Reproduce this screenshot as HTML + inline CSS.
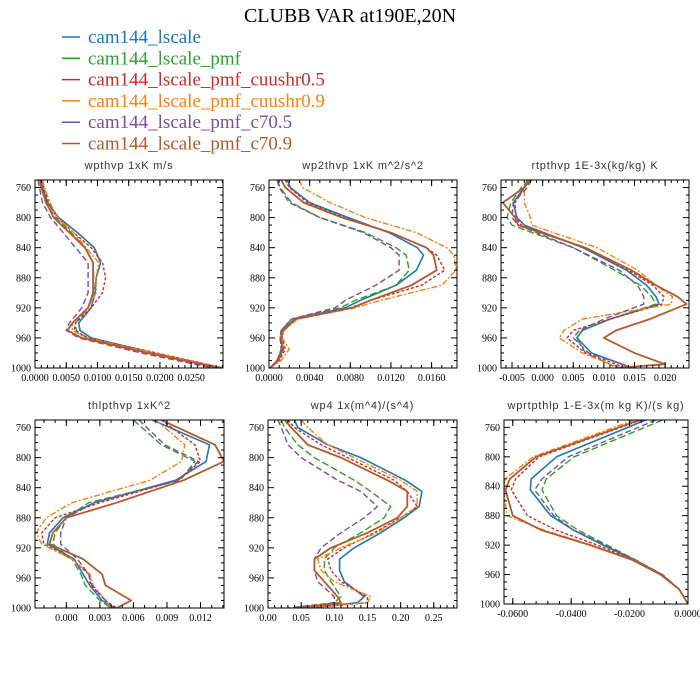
<!DOCTYPE html>
<html><head><meta charset="utf-8"><style>
body{margin:0;background:#fff;}
svg{display:block;}
.pt{font-family:"Liberation Sans",sans-serif;font-size:11px;fill:#333;letter-spacing:0.8px;}
.tl{font-family:"Liberation Serif",serif;font-size:10px;fill:#000;}
.lg{font-family:"Liberation Serif",serif;font-size:19px;}
</style></head><body>
<svg id="chart" width="700" height="700" viewBox="0 0 700 700" xmlns="http://www.w3.org/2000/svg">
<text x="350" y="22" text-anchor="middle" font-family="Liberation Serif,serif" font-size="20">CLUBB VAR at190E,20N</text>
<g id="legend"></g>
<g id="panels"></g>
</svg>
<script>
const seriesNames = ["cam144_lscale","cam144_lscale_pmf","cam144_lscale_pmf_cuushr0.5","cam144_lscale_pmf_cuushr0.9","cam144_lscale_pmf_c70.5","cam144_lscale_pmf_c70.9"];
const yTicks = [760,800,840,880,920,960,1000];

// panel 1: wpthvp
const p1Levels = [750,760,780,800,820,840,860,880,900,920,940,950,960,980,1000];
const p1Blue   = [0.0010,0.0012,0.0020,0.0038,0.0068,0.0095,0.0105,0.0098,0.0096,0.0090,0.0070,0.0072,0.0090,0.0190,0.0300];
const p1Green  = [0.0008,0.0010,0.0017,0.0033,0.0058,0.0080,0.0093,0.0094,0.0094,0.0085,0.0065,0.0066,0.0083,0.0180,0.0295];
const p1Red    = [0.0012,0.0014,0.0022,0.0035,0.0062,0.0090,0.0108,0.0113,0.0108,0.0090,0.0065,0.0063,0.0085,0.0195,0.0302];
const p1Orange = [0.0012,0.0015,0.0024,0.0036,0.0062,0.0082,0.0102,0.0098,0.0098,0.0085,0.0060,0.0060,0.0082,0.0190,0.0302];
const p1Purple = [0.0005,0.0007,0.0012,0.0025,0.0045,0.0065,0.0085,0.0085,0.0085,0.0075,0.0055,0.0050,0.0070,0.0170,0.0285];
const p1Brown  = [0.0008,0.0010,0.0018,0.0030,0.0055,0.0080,0.0093,0.0093,0.0093,0.0085,0.0060,0.0052,0.0075,0.0180,0.0295];
const p1Ticks = [0,0.005,0.010,0.015,0.020,0.025];
const p1TickLabels = ["0.0000","0.0050","0.0100","0.0150","0.0200","0.0250"];

// panel 2: wp2thvp
const p2Levels = [750,760,780,800,820,840,850,870,890,910,920,935,950,960,975,990,1000];
const p2Blue   = [0.0018,0.0021,0.0040,0.0078,0.0118,0.0146,0.0152,0.0145,0.0125,0.0090,0.0075,0.0025,0.0013,0.0012,0.0013,0.0008,0.0001];
const p2Green  = [0.0008,0.0011,0.0022,0.0050,0.0095,0.0125,0.0135,0.0138,0.0125,0.0085,0.0070,0.0022,0.0012,0.0011,0.0012,0.0008,0.0001];
const p2Red    = [0.0016,0.0020,0.0038,0.0074,0.0120,0.0155,0.0165,0.0173,0.0150,0.0100,0.0080,0.0027,0.0014,0.0013,0.0016,0.0010,0.0001];
const p2Orange = [0.0030,0.0033,0.0060,0.0095,0.0145,0.0175,0.0182,0.0184,0.0170,0.0110,0.0085,0.0028,0.0015,0.0013,0.0020,0.0012,0.0001];
const p2Purple = [0.0008,0.0010,0.0020,0.0050,0.0093,0.0120,0.0128,0.0128,0.0105,0.0075,0.0065,0.0022,0.0012,0.0011,0.0012,0.0008,0.0001];
const p2Brown  = [0.0012,0.0016,0.0034,0.0072,0.0120,0.0155,0.0162,0.0165,0.0140,0.0100,0.0082,0.0026,0.0014,0.0012,0.0014,0.0009,0.0001];
const p2Ticks = [0,0.004,0.008,0.012,0.016];
const p2TickLabels = ["0.0000","0.0040","0.0080","0.0120","0.0160"];

// panel 3: rtpthvp
const p3Levels = [750,760,780,800,810,840,870,890,905,915,935,950,960,980,995,1000];
const p3Blue   = [-0.0025,-0.0030,-0.0048,-0.0042,-0.0030,0.0066,0.0137,0.0170,0.0185,0.0190,0.0110,0.0065,0.0056,0.0080,0.0130,0.0145];
const p3Green  = [-0.0022,-0.0035,-0.0052,-0.0058,-0.0050,0.0050,0.0118,0.0160,0.0178,0.0185,0.0110,0.0065,0.0055,0.0070,0.0110,0.0120];
const p3Red    = [-0.0020,-0.0030,-0.0045,-0.0044,-0.0035,0.0070,0.0140,0.0180,0.0198,0.0195,0.0110,0.0050,0.0040,0.0070,0.0120,0.0135];
const p3Orange = [-0.0022,-0.0030,-0.0030,-0.0020,-0.0018,0.0089,0.0155,0.0185,0.0212,0.0210,0.0065,0.0035,0.0027,0.0065,0.0110,0.0130];
const p3Purple = [-0.0018,-0.0025,-0.0048,-0.0050,-0.0040,0.0050,0.0125,0.0155,0.0165,0.0165,0.0100,0.0060,0.0050,0.0075,0.0130,0.0148];
const p3Brown  = [-0.0020,-0.0030,-0.0065,-0.0045,-0.0040,0.0070,0.0145,0.0185,0.0220,0.0235,0.0175,0.0120,0.0100,0.0150,0.0200,0.0120];
const p3Ticks = [-0.005,0,0.005,0.010,0.015,0.020];
const p3TickLabels = ["-0.005","0.000","0.005","0.010","0.015","0.020"];

// panel 4: thlpthvp
const p4Levels = [750,783,805,830,860,880,900,915,935,955,970,990,1000];
const p4Blue   = [0.0077,0.0128,0.0125,0.0098,0.0025,-0.0003,-0.0015,-0.0017,0.0007,0.0015,0.0021,0.0032,0.0043];
const p4Green  = [0.0060,0.0085,0.0115,0.0102,0.0020,0.0000,-0.0010,-0.0012,0.0005,0.0013,0.0017,0.0030,0.0040];
const p4Red    = [0.0085,0.0115,0.0120,0.0100,0.0030,-0.0010,-0.0022,-0.0020,0.0005,0.0020,0.0022,0.0035,0.0045];
const p4Orange = [0.0080,0.0106,0.0103,0.0075,0.0005,-0.0018,-0.0027,-0.0022,0.0005,0.0021,0.0024,0.0035,0.0040];
const p4Purple = [0.0065,0.0088,0.0118,0.0100,0.0025,0.0000,-0.0005,-0.0005,0.0010,0.0020,0.0023,0.0035,0.0043];
const p4Brown  = [0.0085,0.0133,0.0141,0.0105,0.0045,0.0000,-0.0012,-0.0015,0.0015,0.0032,0.0035,0.0058,0.0045];
const p4Ticks = [0,0.003,0.006,0.009,0.012];
const p4TickLabels = ["0.000","0.003","0.006","0.009","0.012"];

// panel 5: wp4
const p5Levels = [750,760,783,800,830,845,865,880,900,920,935,950,965,985,993,1000];
const p5Blue   = [0.04,0.045,0.09,0.14,0.207,0.232,0.228,0.205,0.17,0.13,0.108,0.108,0.115,0.145,0.135,0.06];
const p5Green  = [0.02,0.025,0.045,0.07,0.13,0.155,0.185,0.175,0.14,0.10,0.085,0.085,0.095,0.11,0.10,0.05];
const p5Red    = [0.03,0.04,0.08,0.12,0.19,0.21,0.225,0.20,0.16,0.115,0.09,0.095,0.11,0.15,0.15,0.06];
const p5Orange = [0.05,0.06,0.09,0.13,0.20,0.225,0.225,0.20,0.165,0.11,0.075,0.08,0.10,0.155,0.15,0.05];
const p5Purple = [0.015,0.02,0.03,0.05,0.105,0.14,0.165,0.145,0.11,0.08,0.07,0.07,0.075,0.10,0.10,0.03];
const p5Brown  = [0.025,0.035,0.06,0.11,0.18,0.21,0.21,0.195,0.15,0.095,0.07,0.07,0.085,0.105,0.11,0.04];
const p5Ticks = [0,0.05,0.10,0.15,0.20,0.25];
const p5TickLabels = ["0.00","0.05","0.10","0.15","0.20","0.25"];

// panel 6: wprtpthlp
const p6Levels = [750,800,830,845,880,900,920,940,960,980,1000];
const p6Blue   = [-0.0145,-0.045,-0.0537,-0.054,-0.047,-0.039,-0.029,-0.0185,-0.0090,-0.0030,0];
const p6Green  = [-0.0087,-0.039,-0.0485,-0.050,-0.045,-0.0375,-0.0277,-0.018,-0.0087,-0.0030,0];
const p6Red    = [-0.016,-0.051,-0.059,-0.0605,-0.055,-0.045,-0.031,-0.0188,-0.0092,-0.0030,0];
const p6Orange = [-0.0184,-0.053,-0.0627,-0.063,-0.062,-0.049,-0.033,-0.019,-0.0094,-0.0030,0];
const p6Purple = [-0.011,-0.041,-0.050,-0.0525,-0.046,-0.039,-0.0285,-0.0183,-0.0089,-0.0030,0];
const p6Brown  = [-0.0165,-0.052,-0.061,-0.0625,-0.060,-0.050,-0.0335,-0.0192,-0.0094,-0.0030,0];
const p6Ticks = [-0.06,-0.04,-0.02,0];
const p6TickLabels = ["-0.0600","-0.0400","-0.0200","0.0000"];

const NS="http://www.w3.org/2000/svg";
const styles=[
 {c:"#1f77b4",d:"",w:1.6},
 {c:"#2ca02c",d:"7,3",w:1.4},
 {c:"#d62728",d:"3,2",w:1.4},
 {c:"#ff7f0e",d:"6,2,2,2",w:1.4},
 {c:"#7b4ea3",d:"6,3",w:1.4},
 {c:"#b5592a",d:"",w:1.8}];
const svg=document.getElementById('chart');
function mk(tag,attrs,parent){const e=document.createElementNS(NS,tag);for(const k in attrs)e.setAttribute(k,attrs[k]);parent.appendChild(e);return e;}

// legend
const lg=document.getElementById('legend');
seriesNames.forEach((n,i)=>{
 const y=37+i*21.3;
 const l=mk('line',{x1:62,x2:80,y1:y,y2:y,stroke:styles[i].c,'stroke-width':1.5},lg);
 
 
 const t=mk('text',{x:88,y:y+6,class:'lg',fill:styles[i].c},lg);
 t.textContent=n;
 
 
});

const panels=[
 {name:'wpthvp',title:'wpthvp  1xK m/s',L:35,R:223,T:180,B:368,xmin:0,xmax:0.0301,lev:p1Levels,s:[p1Blue,p1Green,p1Red,p1Orange,p1Purple,p1Brown],tk:p1Ticks,tl:p1TickLabels,minor:0.001},
 {name:'wp2thvp',title:'wp2thvp  1xK m^2/s^2',L:269,R:457,T:180,B:368,xmin:0,xmax:0.0185,lev:p2Levels,s:[p2Blue,p2Green,p2Red,p2Orange,p2Purple,p2Brown],tk:p2Ticks,tl:p2TickLabels,minor:0.001},
 {name:'rtpthvp',title:'rtpthvp  1E-3x(kg/kg) K',L:501,R:689,T:180,B:368,xmin:-0.0068,xmax:0.0239,lev:p3Levels,s:[p3Blue,p3Green,p3Red,p3Orange,p3Purple,p3Brown],tk:p3Ticks,tl:p3TickLabels,minor:0.001},
 {name:'thlpthvp',title:'thlpthvp  1xK^2',L:35,R:224,T:420,B:608,xmin:-0.0028,xmax:0.0141,lev:p4Levels,s:[p4Blue,p4Green,p4Red,p4Orange,p4Purple,p4Brown],tk:p4Ticks,tl:p4TickLabels,minor:0.001},
 {name:'wp4',title:'wp4  1x(m^4)/(s^4)',L:268,R:457,T:420,B:608,xmin:0,xmax:0.285,lev:p5Levels,s:[p5Blue,p5Green,p5Red,p5Orange,p5Purple,p5Brown],tk:p5Ticks,tl:p5TickLabels,minor:0.01},
 {name:'wprtpthlp',title:'wprtpthlp  1-E-3x(m kg K)/(s kg)',L:504,R:688,T:420,B:604,xmin:-0.063,xmax:0,lev:p6Levels,s:[p6Blue,p6Green,p6Red,p6Orange,p6Purple,p6Brown],tk:p6Ticks,tl:p6TickLabels,minor:0.004}
];
const pg=document.getElementById('panels');
panels.forEach(p=>{
 const g=mk('g',{},pg);
 
 
 const xs=v=>p.L+(v-p.xmin)/(p.xmax-p.xmin)*(p.R-p.L);
 const ys=v=>p.T+(v-750)/250*(p.B-p.T);
 const t=mk('text',{x:(p.L+p.R)/2,y:p.T-11,'text-anchor':'middle',class:'pt'},g);
 t.textContent=p.title;
 
 
 const cp='clip-'+p.name;
 const defs=mk('defs',{},g);const c=mk('clipPath',{id:cp},defs);
 mk('rect',{x:p.L,y:p.T,width:p.R-p.L,height:p.B-p.T},c);
 const sg=mk('g',{'clip-path':'url(#'+cp+')'},g);
 p.s.forEach((arr,i)=>{
  const d=arr.map((v,j)=>(j?'L':'M')+xs(v).toFixed(1)+','+ys(p.lev[j]).toFixed(1)).join(' ');
  const path=mk('path',{d:d,fill:'none',stroke:styles[i].c,'stroke-width':styles[i].w,'stroke-dasharray':styles[i].d,'stroke-linejoin':'round'},sg);
  
  
 });
 const fr=mk('rect',{x:p.L,y:p.T,width:p.R-p.L,height:p.B-p.T,fill:'none',stroke:'#000','stroke-width':1},g);
 
 
 // y ticks
 for(let v=750;v<=1000;v+=10){
  const y=ys(v);const maj=yTicks.includes(v);const len=maj?6:3;
  mk('line',{x1:p.L,x2:p.L+len,y1:y,y2:y,stroke:'#000','stroke-width':1},g);
  mk('line',{x1:p.R,x2:p.R-len,y1:y,y2:y,stroke:'#000','stroke-width':1},g);
 }
 yTicks.forEach(v=>{
  const tt=mk('text',{x:p.L-4,y:ys(v)+3.5,'text-anchor':'end',class:'tl'},g);
  tt.textContent=v;
  
  
 });
 // x ticks
 const start=Math.ceil(p.xmin/p.minor-1e-6);const end=Math.floor(p.xmax/p.minor+1e-6);
 for(let k=start;k<=end;k++){
  const x=xs(k*p.minor);
  mk('line',{x1:x,x2:x,y1:p.B,y2:p.B-3,stroke:'#000','stroke-width':1},g);
  mk('line',{x1:x,x2:x,y1:p.T,y2:p.T+3,stroke:'#000','stroke-width':1},g);
 }
 p.tk.forEach((v,i)=>{
  const x=xs(v);
  mk('line',{x1:x,x2:x,y1:p.B,y2:p.B-6,stroke:'#000','stroke-width':1},g);
  mk('line',{x1:x,x2:x,y1:p.T,y2:p.T+6,stroke:'#000','stroke-width':1},g);
  const tt=mk('text',{x:x,y:p.B+13,'text-anchor':'middle',class:'tl'},g);
  tt.textContent=p.tl[i];
  
  
 });
});
</script>
</body></html>
